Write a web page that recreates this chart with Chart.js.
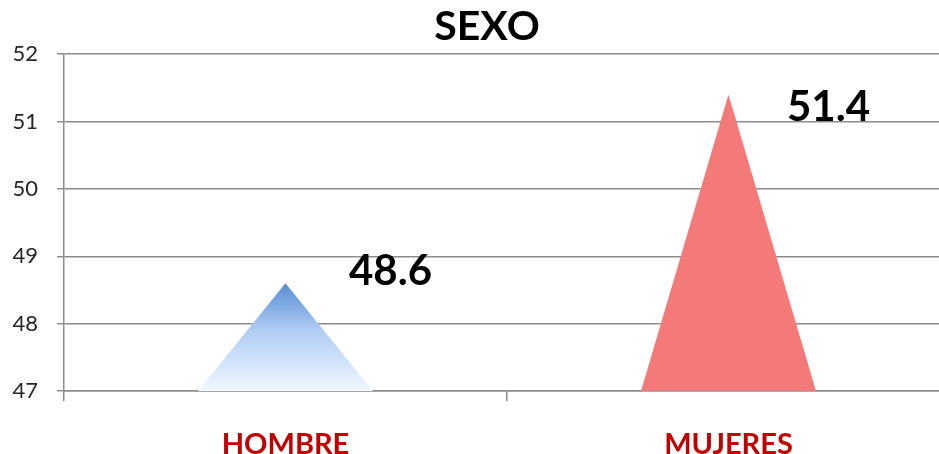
<!DOCTYPE html>
<html>
<head>
<meta charset="utf-8">
<script src="https://cdn.jsdelivr.net/npm/chart.js@4.4.1/dist/chart.umd.min.js"></script>
<style>
  html, body { margin: 0; padding: 0; background: #fff; overflow: hidden; }
  #wrap { width: 962px; height: 454px; }
</style>
</head>
<body>
<div id="wrap"><canvas id="grafico"></canvas></div>
<script>
// datos
const categorias = ["HOMBRE", "MUJERES"];
const porcentajes = [48.6, 51.4];
const ticksY = [47, 48, 49, 50, 51, 52];

// colores de cada triángulo (el primero lleva degradado)
const azulArriba = "rgb(88,141,212)";
const azulAbajo = "rgb(240,248,255)";
const rojo = "rgb(243,122,120)";

// etiquetas de valor colocadas a mano como en el original
const desplazEtiqueta = [{ dx: 105, dy: -12 }, { dx: 100, dy: 13 }];

const triangulos = {
  id: "triangulos",
  // el eje Y recorta sus etiquetas a su propia caja: la abrimos hasta el borde
  afterLayout(chart) {
    chart.scales.y.left = 0;
  },
  afterDatasetsDraw(chart) {
    const ctx = chart.ctx;
    const escY = chart.scales.y;
    const base = escY.getPixelForValue(escY.min);
    const meta = chart.getDatasetMeta(0);
    meta.data.forEach((bar, i) => {
      const { x, y, width } = bar.getProps(["x", "y", "width"], true);
      ctx.save();
      ctx.beginPath();
      ctx.moveTo(x - width / 2, base);
      ctx.lineTo(x, y);
      ctx.lineTo(x + width / 2, base);
      ctx.closePath();
      if (i === 0) {
        const g = ctx.createLinearGradient(0, y, 0, base);
        g.addColorStop(0, azulArriba);
        g.addColorStop(0.45, "rgb(178,206,244)");
        g.addColorStop(1, azulAbajo);
        ctx.fillStyle = g;
      } else {
        ctx.fillStyle = rojo;
      }
      ctx.fill();

      // valor
      const d = desplazEtiqueta[i];
      ctx.fillStyle = "#000";
      ctx.font = "bold 42px Lato";
      ctx.textAlign = "center";
      ctx.textBaseline = "middle";
      ctx.fillText(porcentajes[i].toFixed(1), x + d.dx, y + d.dy);
      ctx.restore();
    });
  }
};

new Chart(document.getElementById("grafico"), {
  type: "bar",
  data: {
    labels: categorias,
    datasets: [{
      data: porcentajes,
      backgroundColor: "rgba(0,0,0,0)",
      borderWidth: 0,
      categoryPercentage: 1,
      barPercentage: 0.395
    }]
  },
  options: {
    responsive: true,
    maintainAspectRatio: false,
    animation: false,
    layout: { padding: { left: 24, right: 12, top: 0, bottom: 0 } },
    plugins: {
      legend: { display: false },
      tooltip: { enabled: false },
      title: {
        display: true,
        text: "SEXO",
        color: "#000",
        font: { family: "Lato", size: 41, weight: "bold" },
        padding: { top: 2, bottom: 3 }
      }
    },
    scales: {
      x: {
        afterFit(s) { s.height = 63; },
        grid: {
          display: true,
          offset: true,
          drawOnChartArea: false,
          drawTicks: true,
          tickLength: 10,
          color: "#8c8c8c",
          lineWidth: 1.5
        },
        border: { display: true, color: "#8c8c8c", width: 1.5 },
        ticks: {
          color: "#c00000",
          padding: 26,
          font: { family: "Lato", size: 29, weight: "bold" }
        }
      },
      y: {
        min: ticksY[0],
        max: ticksY[ticksY.length - 1],
        afterFit(s) { s.width = 40; },
        afterBuildTicks(s) { s.ticks = ticksY.map(v => ({ value: v })); },
        grid: {
          color: "#8c8c8c",
          lineWidth: 1.5,
          tickLength: 7
        },
        border: { display: true, color: "#8c8c8c", width: 1.5 },
        ticks: {
          color: "#262626",
          padding: 19,
          font: { family: "Lato", size: 22 }
        }
      }
    }
  },
  plugins: [triangulos]
});
</script>
</body>
</html>
